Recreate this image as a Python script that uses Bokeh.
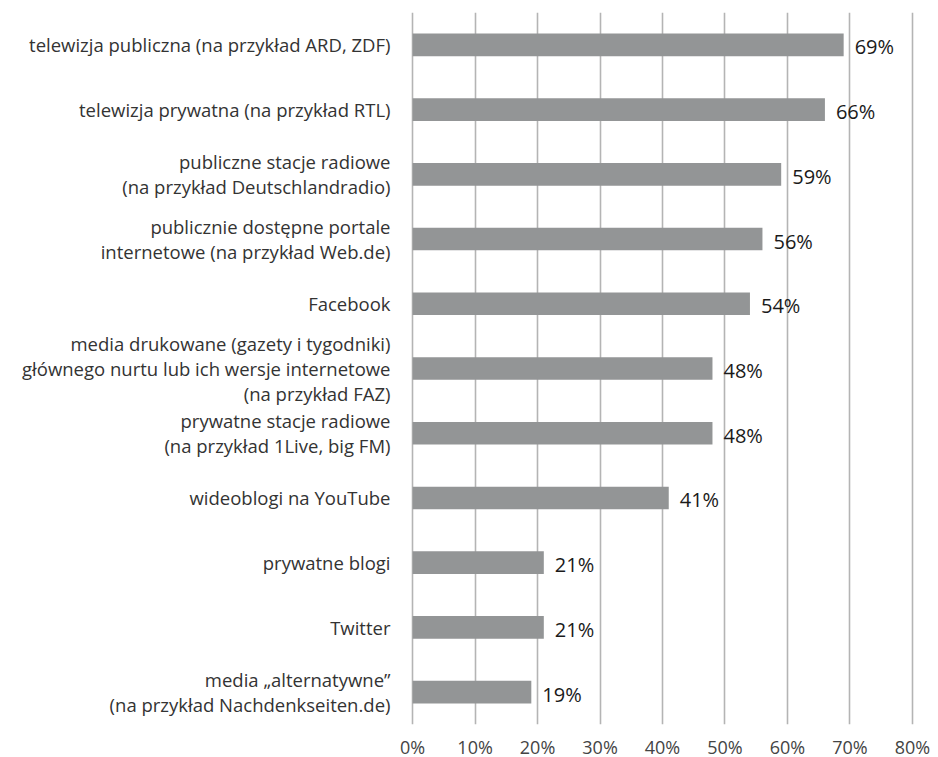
from bokeh.plotting import figure
from bokeh.models import ColumnDataSource, FixedTicker, FactorRange, Range1d
from bokeh.core.properties import value
from bokeh.embed import file_html
from bokeh.resources import INLINE

categories = [
    "telewizja publiczna (na przykład ARD, ZDF)",
    "telewizja prywatna (na przykład RTL)",
    "publiczne stacje radiowe\n(na przykład Deutschlandradio)",
    "publicznie dostępne portale\ninternetowe (na przykład Web.de)",
    "Facebook",
    "media drukowane (gazety i tygodniki)\ngłównego nurtu lub ich wersje internetowe\n(na przykład FAZ)",
    "prywatne stacje radiowe\n(na przykład 1Live, big FM)",
    "wideoblogi na YouTube",
    "prywatne blogi",
    "Twitter",
    "media „alternatywne”\n(na przykład Nachdenkseiten.de)",
]
values = [69, 66, 59, 56, 54, 48, 48, 41, 21, 21, 19]
tick_values = [0, 10, 20, 30, 40, 50, 60, 70, 80]
tick_labels = [f"{t}%" for t in tick_values]

FONT = "Open Sans"

src = ColumnDataSource(dict(cat=categories, val=values,
                            lab=[f"{v}%" for v in values]))

p = figure(
    y_range=FactorRange(*reversed(categories), range_padding=0),
    x_range=Range1d(-0.5, 80.5),
    frame_width=506, frame_height=712,
    width=930, height=757,
    min_border_left=409, min_border_top=12, min_border_right=15, min_border_bottom=33,
    output_backend="svg", toolbar_location=None,
)
p.outline_line_color = None
p.background_fill_color = "white"

p.hbar(y="cat", right="val", left=0, height=0.35, source=src,
       fill_color="#939596", line_color=None)

p.text(x="val", y="cat", text="lab", source=src, x_offset=11, y_offset=2,
       text_align="left", text_baseline="middle",
       text_font=value(FONT), text_font_size="20px", text_color="#1a1a1a")

p.ygrid.grid_line_color = None
p.xgrid.ticker = FixedTicker(ticks=tick_values)
p.xgrid.grid_line_color = "#b4b4b4"
p.xgrid.grid_line_width = 1.6

p.xaxis.ticker = FixedTicker(ticks=tick_values)
p.xaxis.major_label_overrides = {t: l for t, l in zip(tick_values, tick_labels)}
p.xaxis.axis_line_color = None
p.xaxis.major_tick_line_color = None
p.xaxis.minor_tick_line_color = None
p.xaxis.major_label_standoff = 4
p.xaxis.major_label_text_font = FONT
p.xaxis.major_label_text_font_size = "18px"
p.xaxis.major_label_text_color = "#444444"

p.yaxis.axis_line_color = None
p.yaxis.major_tick_line_color = None
p.yaxis.minor_tick_line_color = None
p.yaxis.major_label_standoff = 13
p.yaxis.major_label_text_font = FONT
p.yaxis.major_label_text_font_size = "18.5px"
p.yaxis.major_label_text_line_height = 1.0
p.yaxis.major_label_text_color = "#333333"

open("out.html", "w").write(file_html(p, INLINE))
